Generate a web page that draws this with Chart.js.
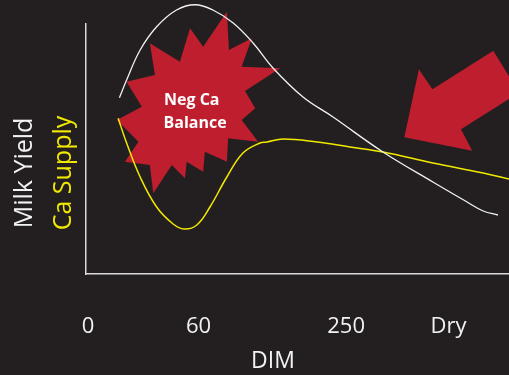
<!DOCTYPE html>
<html>
<head>
<meta charset="utf-8">
<script src="https://cdn.jsdelivr.net/npm/chart.js@4.4.1/dist/chart.umd.min.js"></script>
<style>
  html, body { margin: 0; padding: 0; background: #231f20; }
  #wrap { width: 509px; height: 375px; }
</style>
</head>
<body>
<div id="wrap"><canvas id="chart" width="509" height="375"></canvas></div>
<script>
// x axis labels (not to scale on the slide, so placed by hand along 0-100)
const tickValues = [0.5, 26.6, 61.5, 85.7];
const tickLabels = ['0', '60', '250', 'Dry'];

// Milk yield curve (white)
const milkX = [7.9, 9.6, 12.8, 16.7, 21.4, 25.8, 30.0, 34.8, 39.5, 44.2, 51.3, 58.4, 70.2, 82.0, 90.1, 93.9, 97.4];
const milkY = [70.5, 77.6, 89.6, 98.9, 105.6, 107.7, 105.6, 100.4, 92.4, 82.4, 70.8, 62.8, 48.8, 36.8, 28.8, 25.2, 23.6];

// Ca supply curve (yellow)
const caX = [7.6, 9.6, 12.8, 16.7, 20.6, 23.2, 26.2, 29.3, 33.3, 37.1, 41.1, 42.8, 46.6, 54.6, 62.4, 70.2, 82.0, 93.9, 100];
const caY = [62.3, 52.4, 38.8, 26.8, 20.0, 18.0, 19.6, 26.8, 38.8, 48.4, 52.4, 52.8, 54.0, 52.8, 50.8, 48.8, 44.4, 40.4, 38.0];

// "Neg Ca Balance" starburst outline, in chart units
const starX = [33.3, 33.8, 39.2, 36.8, 45.9, 37.6, 40.0, 36.8, 40.7, 33.6, 33.3, 28.1, 27.7, 23.8, 23.4, 20.3, 15.9, 15.1, 9.2, 12.4, 7.3, 13.2, 9.6, 16.3, 15.1, 22.2, 24.6, 27.7];
const starY = [104.9, 89.6, 94.3, 82.9, 82.3, 73.2, 66.3, 61.6, 52.9, 54.3, 44.9, 48.9, 40.9, 44.9, 38.3, 43.6, 32.3, 43.6, 44.9, 52.9, 61.6, 66.9, 76.9, 79.6, 92.3, 84.9, 98.3, 90.9];

// big arrow pointing at the crossover
const arrowX = [75.25, 78.7, 81.9, 96.3, 102.4, 88.65, 91.3];
const arrowY = [54.7, 81.9, 73.9, 89.3, 72.5, 57.9, 49.3];

const BG = '#231f20';
const RED = '#be1e2d';
const WHITE = '#f2f2f2';
const YELLOW = '#f2e900';

const toPts = (xs, ys) => xs.map((x, i) => ({ x: x, y: ys[i] }));

function fillShape(chart, xs, ys) {
    const { ctx, scales } = chart;
    ctx.beginPath();
    xs.forEach((x, i) => {
        const px = scales.x.getPixelForValue(x);
        const py = scales.y.getPixelForValue(ys[i]);
        if (i === 0) ctx.moveTo(px, py); else ctx.lineTo(px, py);
    });
    ctx.closePath();
    ctx.fill();
}

const slidePlugin = {
    id: 'slide',
    beforeDraw(chart) {
        const ctx = chart.ctx;
        ctx.save();
        ctx.fillStyle = BG;
        ctx.fillRect(0, 0, chart.width, chart.height);
        ctx.restore();
    },
    beforeDatasetsDraw(chart) {
        const ctx = chart.ctx;
        ctx.save();
        ctx.fillStyle = RED;
        fillShape(chart, starX, starY);
        fillShape(chart, arrowX, arrowY);
        ctx.restore();
    },
    afterDatasetsDraw(chart) {
        const { ctx, scales } = chart;
        ctx.save();
        // label inside the starburst
        ctx.fillStyle = '#ffffff';
        ctx.font = 'bold 16px "Open Sans"';
        ctx.textAlign = 'center';
        ctx.textBaseline = 'middle';
        ctx.fillText('Neg Ca', scales.x.getPixelForValue(25.0), scales.y.getPixelForValue(69.6));
        ctx.fillText('Balance', scales.x.getPixelForValue(25.8), scales.y.getPixelForValue(60.3));

        // y titles, two colours
        ctx.font = '25px "Open Sans"';
        ctx.textBaseline = 'alphabetic';
        ctx.translate(32, 173);
        ctx.rotate(-Math.PI / 2);
        ctx.fillStyle = WHITE;
        ctx.fillText('Milk Yield', 0, 0);
        ctx.fillStyle = YELLOW;
        ctx.fillText('Ca Supply', 0, 39);
        ctx.restore();

        // x title
        ctx.save();
        ctx.fillStyle = WHITE;
        ctx.font = '23px "Open Sans"';
        ctx.textAlign = 'center';
        ctx.textBaseline = 'alphabetic';
        ctx.fillText('DIM', 273, 368);
        ctx.restore();
    }
};

new Chart(document.getElementById('chart'), {
    type: 'line',
    data: {
        datasets: [
            {
                label: 'Milk Yield',
                data: toPts(milkX, milkY),
                borderColor: WHITE,
                borderWidth: 1.3,
                pointRadius: 0,
                tension: 0.4,
                clip: false
            },
            {
                label: 'Ca Supply',
                data: toPts(caX, caY),
                borderColor: YELLOW,
                borderWidth: 1.5,
                pointRadius: 0,
                tension: 0.4,
                clip: false
            }
        ]
    },
    options: {
        responsive: false,
        animation: false,
        layout: { padding: { left: 0, right: 0, top: 24, bottom: 0 } },
        plugins: {
            legend: { display: false },
            tooltip: { enabled: false }
        },
        scales: {
            x: {
                type: 'linear',
                min: 0,
                max: 100,
                afterBuildTicks: (scale) => {
                    scale.ticks = tickValues.map(v => ({ value: v }));
                },
                afterFit: (scale) => { scale.height = 101; },
                grid: { display: false, drawTicks: false },
                border: { display: true, color: '#d9d9d9', width: 1.5 },
                ticks: {
                    color: WHITE,
                    font: { family: 'Open Sans', size: 22 },
                    padding: 40,
                    autoSkip: false,
                    maxRotation: 0,
                    callback: (value, index) => tickLabels[index]
                }
            },
            y: {
                min: 0,
                max: 100,
                afterFit: (scale) => { scale.width = 86; },
                grid: { display: false, drawTicks: false },
                border: { display: true, color: '#d9d9d9', width: 1.5 },
                ticks: { display: false }
            }
        }
    },
    plugins: [slidePlugin]
});
</script>
</body>
</html>
